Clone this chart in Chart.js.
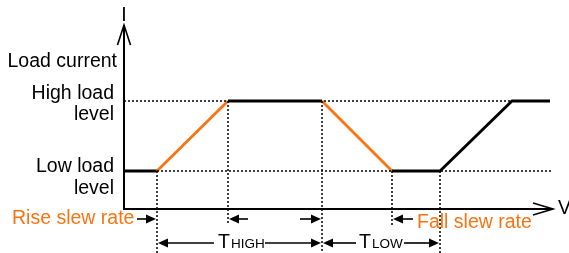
<!DOCTYPE html>
<html>
<head>
<meta charset="utf-8">
<script src="https://cdn.jsdelivr.net/npm/chart.js@4.4.1/dist/chart.umd.min.js"></script>
<style>
html, body { margin: 0; padding: 0; background: #fff; }
#wrap { width: 569px; height: 253px; }
</style>
</head>
<body>
<div id="wrap"><canvas id="graphCanvas"></canvas></div>
<script>
// time / current (origin = where the axes meet)
var times   = [0, 33, 104, 198, 268, 316, 388, 426];
var current = [38, 38, 108, 108, 38, 38, 108, 108];
var orangeSegments = [1, 3];        // rise + fall of the first period
var lowLevel = 38, highLevel = 108;
var guideEnds = [-44, -16, -44, -18, -44];   // where the vertical dotted lines stop
var axisEnd = { t: 429, i: 184 };

var orange = '#fa7312';
var font = '"Liberation Sans", Arial, sans-serif';

var guideSets = [];
// horizontal dotted levels
guideSets.push({ data: [{x: 0, y: highLevel}, {x: times[7], y: highLevel}] });
guideSets.push({ data: [{x: times[1], y: lowLevel}, {x: axisEnd.t - 1, y: lowLevel}] });
// vertical dotted lines at the corners of the first period
for (var k = 1; k <= 5; k++) {
    guideSets.push({ data: [{x: times[k], y: current[k]}, {x: times[k], y: guideEnds[k - 1]}] });
}
guideSets.forEach(function (d) {
    d.type = 'line';
    d.borderColor = '#000';
    d.borderWidth = 1.5;
    d.borderDash = [2, 2];
    d.pointRadius = 0;
    d.fill = false;
});

var wave = [];
for (var i in times) {
    wave.push({ x: times[i], y: current[i] });
}

var arrowPlugin = {
    id: 'arrows',
    afterDatasetsDraw: function (chart) {
        var ctx = chart.ctx;
        var sx = chart.scales.x, sy = chart.scales.y;
        function X(t) { return sx.getPixelForValue(t); }
        function Y(v) { return sy.getPixelForValue(v); }

        ctx.save();
        ctx.strokeStyle = '#000';
        ctx.fillStyle = '#000';
        ctx.lineCap = 'butt';

        // axes
        ctx.lineWidth = 2;
        ctx.beginPath();
        ctx.moveTo(X(0), Y(axisEnd.i));
        ctx.lineTo(X(0), Y(0));
        ctx.lineTo(X(axisEnd.t), Y(0));
        ctx.stroke();
        ctx.lineWidth = 1.6;
        ctx.beginPath();
        ctx.moveTo(X(0) - 6.5, Y(axisEnd.i) + 20);
        ctx.lineTo(X(0), Y(axisEnd.i));
        ctx.lineTo(X(0) + 6.5, Y(axisEnd.i) + 20);
        ctx.moveTo(X(axisEnd.t) - 20, Y(0) - 6);
        ctx.lineTo(X(axisEnd.t), Y(0));
        ctx.lineTo(X(axisEnd.t) - 20, Y(0) + 6);
        ctx.stroke();

        function head(x, y, dir) {
            ctx.beginPath();
            ctx.moveTo(x, y);
            ctx.lineTo(x - dir * 10, y - 4.5);
            ctx.lineTo(x - dir * 10, y + 4.5);
            ctx.closePath();
            ctx.fill();
        }
        function hline(x1, x2, y) {
            ctx.beginPath();
            ctx.moveTo(x1, y);
            ctx.lineTo(x2, y);
            ctx.stroke();
        }

        // slew rate arrows
        ctx.lineWidth = 1.6;
        var ys = Y(-10);
        hline(X(times[1]) - 20, X(times[1]) - 6, ys); head(X(times[1]) - 1, ys, 1);
        hline(X(times[2]) + 6, X(times[2]) + 20, ys); head(X(times[2]) + 1, ys, -1);
        hline(X(times[3]) - 22, X(times[3]) - 6, ys); head(X(times[3]) - 1, ys, 1);
        hline(X(times[4]) + 6, X(times[4]) + 21, ys); head(X(times[4]) + 1, ys, -1);

        // THIGH / TLOW dimension line
        var yd = Y(-34);
        head(X(times[1]) + 1, yd, -1); hline(X(times[1]) + 6, X(times[1]) + 57, yd);
        hline(X(times[3]) - 57, X(times[3]) - 6, yd); head(X(times[3]) - 1, yd, 1);
        head(X(times[3]) + 1, yd, -1); hline(X(times[3]) + 6, X(times[3]) + 34, yd);
        hline(X(times[5]) - 36, X(times[5]) - 6, yd); head(X(times[5]) - 1, yd, 1);

        // text
        ctx.textBaseline = 'alphabetic';
        ctx.font = '19.5px ' + font;
        ctx.textAlign = 'center';
        ctx.fillText('I', X(0), 21);
        ctx.textAlign = 'left';
        ctx.fillText('V', X(axisEnd.t) + 5, Y(0) + 5);
        ctx.textAlign = 'right';
        ctx.fillText('Load current', X(0) - 7, 67);
        ctx.fillText('High load', X(0) - 10, Y(highLevel) - 2);
        ctx.fillText('level', X(0) - 10, Y(highLevel) + 19);
        ctx.fillText('Low load', X(0) - 10, Y(lowLevel) + 1);
        ctx.fillText('level', X(0) - 10, Y(lowLevel) + 23);

        ctx.textAlign = 'left';
        ctx.fillText('T', X(times[1]) + 61, yd + 5);
        ctx.fillText('T', X(times[3]) + 37, yd + 5);
        ctx.font = '13.5px ' + font;
        ctx.fillText('HIGH', X(times[1]) + 74, yd + 5);
        ctx.fillText('LOW', X(times[3]) + 50, yd + 5);

        ctx.font = '19.5px ' + font;
        ctx.fillStyle = orange;
        ctx.fillText('Rise slew rate', 12, ys + 5);
        ctx.fillText('Fall slew rate', X(times[4]) + 25, ys + 9);
        ctx.restore();
    }
};

var chartdata = {
    datasets: guideSets.concat([{
        type: 'line',
        data: wave,
        borderColor: '#000',
        borderWidth: 2.8,
        pointRadius: 0,
        fill: false,
        segment: {
            borderColor: function (c) {
                return orangeSegments.indexOf(c.p0DataIndex) >= 0 ? orange : '#000';
            }
        }
    }])
};

var graphTarget = document.getElementById('graphCanvas');
var waveGraph = new Chart(graphTarget, {
    type: 'line',
    data: chartdata,
    plugins: [arrowPlugin],
    options: {
        responsive: true,
        maintainAspectRatio: false,
        animation: false,
        layout: { padding: 0 },
        plugins: { legend: { display: false }, tooltip: { enabled: false } },
        scales: {
            x: { type: 'linear', min: -124, max: 445, display: false },
            y: { type: 'linear', min: -44, max: 209, display: false }
        }
    }
});
</script>
</body>
</html>
